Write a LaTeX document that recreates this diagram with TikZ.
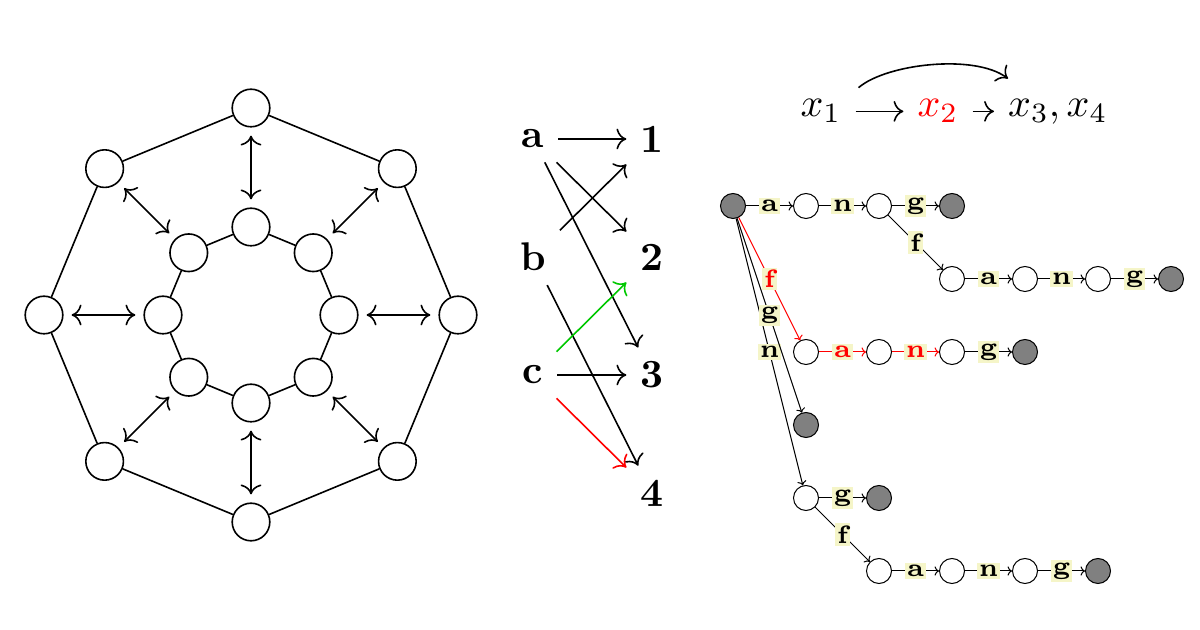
\documentclass[tikz,border=0pt]{standalone}
\usetikzlibrary{arrows.meta}
\definecolor{lblbg}{RGB}{245,245,200}
\definecolor{mygreen}{RGB}{0,200,0}
\begin{document}
\begin{tikzpicture}[x=0.25pt,y=-0.25pt,
  octnode/.style={circle,draw,inner sep=0pt,minimum size=9.4pt},
  octarrow/.style={<->,shorten >=2pt,shorten <=2pt},
  bigtext/.style={font=\bfseries},
  trienode/.style={circle,draw,line width=0.25pt,inner sep=0pt,minimum size=6.25pt},
  termnode/.style={trienode,fill=gray},
  trieedge/.style={line width=0.25pt,-{Computer Modern Rightarrow[length=1.1pt,width=2.3pt]}},
  trielbl/.style={fill=lblbg,inner sep=0.55pt,font=\fontsize{6.3}{7}\selectfont\bfseries,midway},
]
\useasboundingbox (0,0) rectangle (1200,630);

% ---------- octagon ----------
\foreach \i in {0,...,7} {
  \node[octnode] (o\i) at ({251+207*cos(90-45*\i)},{315-207*sin(90-45*\i)}) {};
  \node[octnode] (n\i) at ({251+88*cos(90-45*\i)},{315-88*sin(90-45*\i)}) {};
}
\foreach \i in {0,...,7} {
  \pgfmathtruncatemacro{\j}{mod(\i+1,8)}
  \draw (o\i) -- (o\j);
  \draw (n\i) -- (n\j);
  \draw[octarrow] (o\i) -- (n\i);
}

% ---------- bipartite ----------
\node[bigtext] (la) at (533,139) {a};
\node[bigtext] (lb) at (533,257) {b};
\node[bigtext] (lc) at (533,375) {c};
\node[bigtext] (d1) at (652,139) {1};
\node[bigtext] (d2) at (652,257) {2};
\node[bigtext] (d3) at (652,375) {3};
\node[bigtext] (d4) at (652,493) {4};
\draw[->] (la) -- (d1);
\draw[->] (la) -- (d2);
\draw[->] (la) -- (d3);
\draw[->] (lb) -- (d1);
\draw[->] (lb) -- (d4);
\draw[->,mygreen] (lc) -- (d2);
\draw[->] (lc) -- (d3);
\draw[->,red] (lc) -- (d4);

% ---------- formula ----------
\node[anchor=base] (x1) at (821,117) {$x_1$};
\node[anchor=base,text=red] (x2) at (938,117) {$x_2$};
\node[anchor=base west] (x3) at (994,117) {$x_3, x_4$};
\draw[->] (x1) -- (x2);
\draw[->] (x2) -- (x2 -| x3.west);
\draw[->] ([shift={(3,2)}]x1.north east) .. controls +(28,-24) and +(-33,-25) .. ([shift={(14,-7)}]x3.north west);

% ---------- trie ----------
\node[termnode] (r) at (733,206) {};
\node[trienode] (t10) at (806,206) {};
\node[trienode] (t20) at (879,206) {};
\node[termnode] (t30) at (952,206) {};
\node[trienode] (t31) at (952,279) {};
\node[trienode] (t41) at (1025,279) {};
\node[trienode] (t51) at (1098,279) {};
\node[termnode] (t61) at (1171,279) {};
\node[trienode] (t12) at (806,352) {};
\node[trienode] (t22) at (879,352) {};
\node[trienode] (t32) at (952,352) {};
\node[termnode] (t42) at (1025,352) {};
\node[termnode] (t13) at (806,425) {};
\node[trienode] (t14) at (806,498) {};
\node[termnode] (t24) at (879,498) {};
\node[trienode] (t25) at (879,571) {};
\node[trienode] (t35) at (952,571) {};
\node[trienode] (t45) at (1025,571) {};
\node[termnode] (t55) at (1098,571) {};

\draw[trieedge] (r) -- node[trielbl] {a} (t10);
\draw[trieedge] (t10) -- node[trielbl] {n} (t20);
\draw[trieedge] (t20) -- node[trielbl] {g} (t30);
\draw[trieedge] (t20) -- node[trielbl] {f} (t31);
\draw[trieedge] (t31) -- node[trielbl] {a} (t41);
\draw[trieedge] (t41) -- node[trielbl] {n} (t51);
\draw[trieedge] (t51) -- node[trielbl] {g} (t61);
\draw[trieedge] (r) -- node[trielbl] {n} (t14);
\draw[trieedge] (r) -- node[trielbl] {g} (t13);
\draw[trieedge,red] (r) -- node[trielbl] {f} (t12);
\draw[trieedge,red] (t12) -- node[trielbl] {a} (t22);
\draw[trieedge,red] (t22) -- node[trielbl] {n} (t32);
\draw[trieedge] (t32) -- node[trielbl] {g} (t42);
\draw[trieedge] (t14) -- node[trielbl] {g} (t24);
\draw[trieedge] (t14) -- node[trielbl] {f} (t25);
\draw[trieedge] (t25) -- node[trielbl] {a} (t35);
\draw[trieedge] (t35) -- node[trielbl] {n} (t45);
\draw[trieedge] (t45) -- node[trielbl] {g} (t55);
\end{tikzpicture}
\end{document}
